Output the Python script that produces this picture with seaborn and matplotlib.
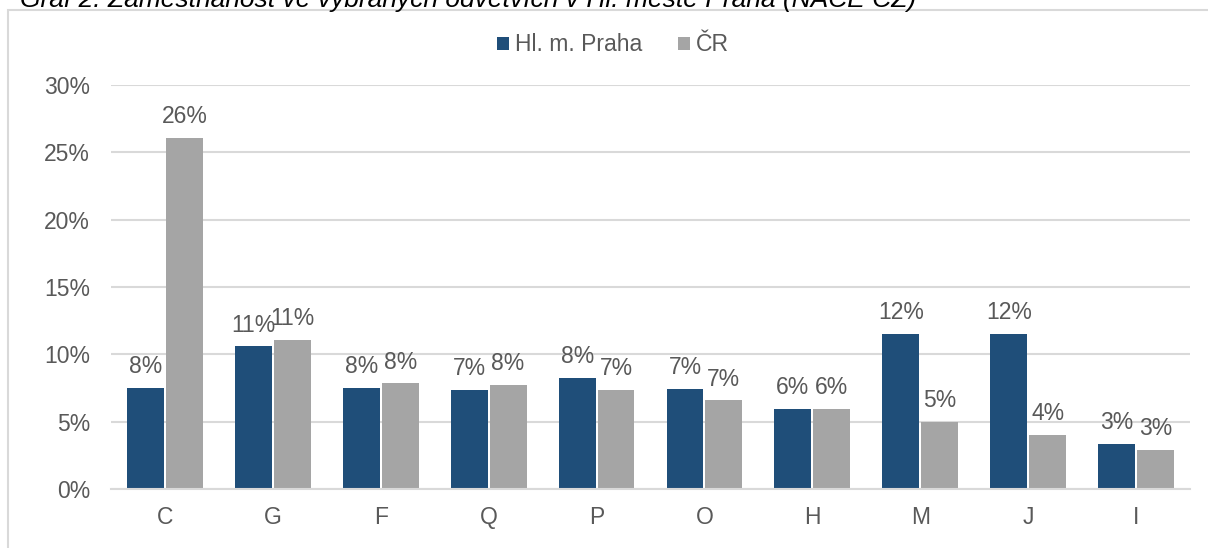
import matplotlib
matplotlib.use("Agg")
import matplotlib.pyplot as plt
import seaborn as sns
import pandas as pd
from matplotlib.patches import Rectangle
from matplotlib.ticker import FuncFormatter, MultipleLocator

categories = ["C", "G", "F", "Q", "P", "O", "H", "M", "J", "I"]
praha = [7.52, 10.6, 7.52, 7.35, 8.24, 7.45, 5.93, 11.52, 11.52, 3.33]
cr = [26.05, 11.1, 7.84, 7.72, 7.35, 6.58, 5.93, 5.01, 4.0, 2.93]
series_names = ["Hl. m. Praha", "ČR"]
colors = ["#1F4E79", "#A5A5A5"]
title = "Graf 2: Zaměstnanost ve vybraných odvětvích v Hl. městě Praha (NACE CZ)"

df = pd.DataFrame({
    "kat": categories * 2,
    "hodnota": praha + cr,
    "rada": [series_names[0]] * len(categories) + [series_names[1]] * len(categories),
})

sns.set_style("white")
plt.rcParams["font.family"] = ["Liberation Sans", "DejaVu Sans"]
text_col = "#595959"
grid_col = "#D9D9D9"
fs = 16.5

W, H = 1208, 548
fig = plt.figure(figsize=(W / 100, H / 100), dpi=100)
ax = fig.add_axes([111 / W, 1 - 489 / H, (1190 - 111) / W, (489 - 85) / H])

sns.barplot(data=df, x="kat", y="hodnota", hue="rada", palette=colors,
            width=0.72, gap=0.05, ax=ax, saturation=1, linewidth=0)

handles, labels = ax.get_legend_handles_labels()
if ax.get_legend() is not None:
    ax.get_legend().remove()

for cont in ax.containers:
    ax.bar_label(cont, labels=[f"{v:.0f}%" for v in cont.datavalues],
                 padding=7, fontsize=fs, color=text_col)

ax.set_ylim(0, 30)
ax.set_xlim(-0.5, len(categories) - 0.5)
ax.yaxis.set_major_locator(MultipleLocator(5))
ax.yaxis.set_major_formatter(FuncFormatter(lambda v, p: f"{v:.0f}%"))
ax.grid(axis="y", color=grid_col, linewidth=1.5)
ax.set_axisbelow(True)
for s in ["top", "right", "left"]:
    ax.spines[s].set_visible(False)
ax.spines["bottom"].set_color(grid_col)
ax.spines["bottom"].set_linewidth(1.5)
ax.tick_params(axis="both", length=0, labelsize=fs, labelcolor=text_col)
ax.tick_params(axis="y", pad=15)
ax.tick_params(axis="x", pad=12)
ax.set_xlabel("")
ax.set_ylabel("")

fig.legend(handles, labels, loc="center", bbox_to_anchor=(613 / W, 1 - 45 / H),
           ncol=2, frameon=False, fontsize=fs, labelcolor=text_col,
           handlelength=0.5, handleheight=0.5, handletextpad=0.25,
           columnspacing=1.6)

# outer chart frame
fig.patches.append(Rectangle((8 / W, -0.2), 1.2, 1.2 - 10 / H,
                             transform=fig.transFigure, fill=False,
                             edgecolor=grid_col, linewidth=1.5))

# title, mostly cut off at the top
t = fig.text(20 / W, 1 - 7 / H, title, fontsize=fs, style="italic",
             color="black", va="baseline", ha="left")
fig.canvas.draw()
bb = t.get_window_extent()
t.set_fontsize(fs * (898 / bb.width))

fig.savefig("out.png", dpi=100)
